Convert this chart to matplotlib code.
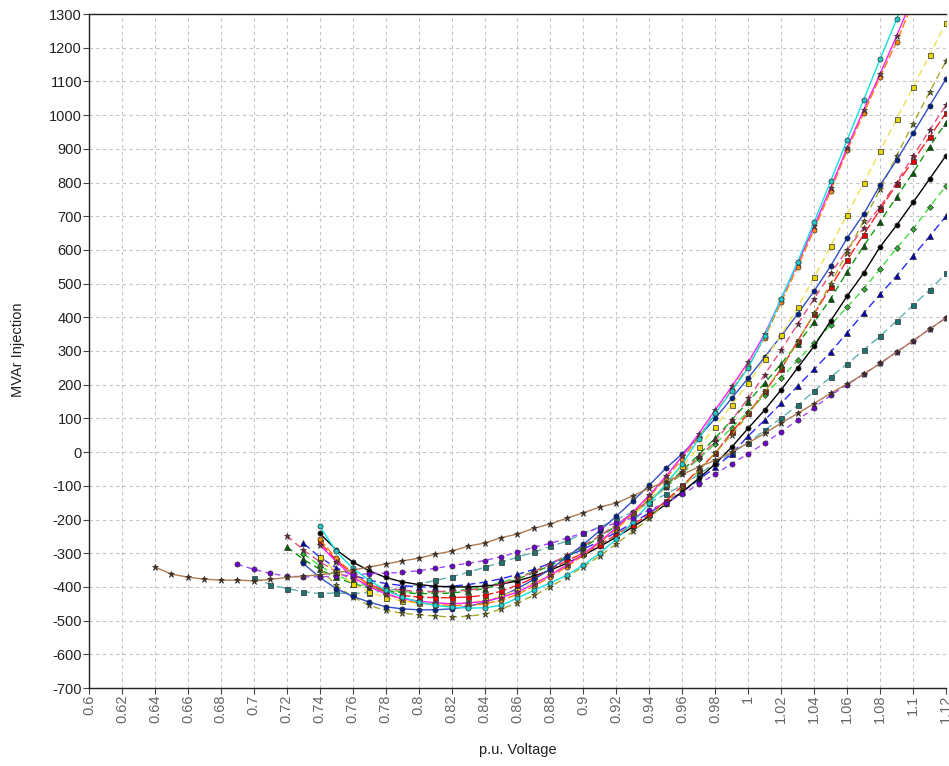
import matplotlib
matplotlib.use("Agg")
import matplotlib.pyplot as plt
import numpy as np

plt.rcParams['font.family'] = ['Liberation Sans', 'DejaVu Sans']

# QV curves: first voltage of each curve, then MVAr values every 0.01 p.u.
start_v = {
    'brown': 0.64, 'purple': 0.69, 'teal': 0.70, 'crimson': 0.72, 'darkgreen': 0.72,
    'blue': 0.73, 'lightgreen': 0.73, 'navy': 0.73, 'cyan': 0.74, 'magenta': 0.74,
    'orange': 0.74, 'red': 0.74, 'yellow': 0.74, 'olive': 0.74, 'black': 0.74,
}

cyan = [-220, -294, -345, -380, -410, -430, -445, -455, -460, -463, -462, -455, -433, -410,
        -388, -365, -335, -300, -258, -208, -152, -95, -35, 40, 115, 182, 250, 345, 455, 565,
        683, 804, 926, 1045, 1166, 1284, 1405]
magenta = [-275, -325, -370, -400, -420, -435, -442, -447, -450, -448, -443, -432, -415, -392,
           -365, -335, -302, -265, -224, -178, -128, -72, -12, 55, 125, 195, 267, 350, 455, 560,
           670, 785, 903, 1015, 1122, 1235, 1350]
orange = [-259, -315, -360, -395, -420, -438, -448, -452, -455, -455, -450, -440, -422, -398,
          -370, -340, -306, -268, -228, -182, -132, -78, -20, 45, 115, 185, 255, 340, 445, 550,
          660, 775, 895, 1005, 1113, 1217, 1335]
red = [-268, -320, -362, -392, -412, -425, -430, -432, -432, -430, -425, -413, -395, -373, -348,
       -322, -300, -275, -245, -215, -185, -145, -100, -52, -3, 60, 115, 180, 246, 330, 410, 490,
       570, 645, 720, 795, 864, 935, 1006]
crimson = [-248, -290, -325, -355, -378, -395, -405, -410, -413, -414, -413, -410, -403, -392,
           -375, -355, -332, -306, -278, -248, -215, -180, -143, -103, -60, -15, 32, 95, 160, 230,
           303, 380, 455, 530, 600, 665, 728, 800, 878, 955, 1030]
darkgreen = [-281, -318, -348, -372, -390, -403, -412, -417, -420, -420, -418, -413, -405, -393,
             -377, -358, -336, -311, -283, -252, -218, -181, -142, -100, -55, -8, 42, 95, 150,
             205, 262, 322, 385, 455, 535, 611, 683, 757, 829, 906, 978]
blue = [-270, -312, -343, -365, -380, -390, -396, -400, -400, -398, -393, -386, -376, -363, -348,
        -330, -310, -288, -264, -238, -210, -180, -150, -118, -82, -45, -5, 48, 95, 145, 196, 246,
        297, 354, 412, 468, 523, 582, 640, 700]
lightgreen = [-301, -337, -365, -385, -399, -409, -414, -416, -415, -412, -407, -399, -387, -372,
              -354, -332, -307, -280, -250, -218, -183, -145, -105, -63, -20, 25, 72, 120, 170,
              220, 272, 324, 377, 430, 484, 543, 605, 662, 727, 790]
navy = [-330, -372, -405, -428, -445, -459, -465, -468, -468, -465, -458, -446, -428, -405, -378,
        -347, -312, -274, -233, -190, -145, -98, -48, -5, 45, 100, 160, 220, 282, 345, 410, 478,
        552, 635, 706, 792, 866, 946, 1027, 1107]
yellow = [-311, -355, -390, -415, -432, -442, -448, -450, -450, -447, -440, -428, -410, -388,
          -362, -333, -300, -265, -228, -188, -145, -95, -42, 15, 75, 140, 205, 275, 347, 430,
          519, 611, 705, 798, 893, 988, 1083, 1178, 1273]
olive = [-345, -395, -430, -455, -470, -478, -483, -486, -490, -487, -481, -466, -447, -425,
         -400, -370, -340, -308, -272, -235, -196, -150, -105, -55, -3, 52, 112, 178, 250, 328,
         412, 500, 592, 686, 780, 879, 975, 1068, 1160]
black = [-241, -290, -326, -352, -372, -385, -393, -398, -400, -400, -398, -392, -382, -368,
         -350, -330, -306, -280, -252, -222, -190, -155, -118, -78, -35, 15, 71, 125, 185, 250,
         315, 389, 463, 531, 609, 673, 741, 810, 880]
teal = [-373, -393, -405, -414, -420, -418, -420, -417, -412, -403, -392, -381, -370, -357, -342,
        -327, -312, -297, -280, -264, -241, -222, -200, -178, -150, -125, -98, -66, -33, -3, 28,
        65, 101, 139, 181, 223, 261, 303, 344, 389, 436, 481, 530]
purple = [-333, -348, -360, -368, -370, -370, -368, -364, -361, -359, -357, -352, -345, -337,
          -330, -322, -310, -297, -282, -271, -255, -240, -225, -210, -195, -172, -150, -125, -95,
          -65, -34, -5, 27, 60, 95, 132, 168, 200, 231, 263, 297, 330, 365, 398]
brown = [-341, -362, -371, -377, -380, -380, -382, -378, -372, -368, -364, -358, -350, -341, -332,
         -323, -315, -303, -294, -279, -270, -254, -243, -226, -213, -196, -180, -163, -151, -130,
         -107, -88, -66, -44, -24, 0, 27, 56, 86, 115, 144, 175, 202, 231, 263, 297, 330, 365, 398]

x_ticks = np.round(np.arange(0.60, 1.121, 0.02), 2)
y_ticks = np.arange(-700, 1301, 100)

# name: (values, line colour, line style, marker, marker face)
styles = {
    'teal': (teal, '#5fb0b0', (0, (6, 3)), 's', '#1f7272'),
    'lightgreen': (lightgreen, '#40e040', (0, (5, 3)), 'D', '#30b030'),
    'blue': (blue, '#2a2aff', (0, (6, 3)), '^', '#0000b0'),
    'darkgreen': (darkgreen, '#109a10', (0, (5, 3)), '^', '#005a00'),
    'black': (black, '#000000', '-', 'o', '#000000'),
    'red': (red, '#ff2020', (0, (8, 2)), 's', '#e00000'),
    'crimson': (crimson, '#e8507f', (0, (5, 3)), '*', '#9a1040'),
    'olive': (olive, '#a8a828', (0, (5, 3)), '*', '#7a7a00'),
    'navy': (navy, '#3050c8', '-', 'o', '#00208a'),
    'yellow': (yellow, '#efe050', (0, (5, 3)), 's', '#e6d400'),
    'orange': (orange, '#ff8000', (0, (6, 2)), 'o', '#ff8c00'),
    'magenta': (magenta, '#ff20ff', '-', '*', '#a02060'),
    'cyan': (cyan, '#10e0e0', '-', 'o', '#20c8c8'),
    'purple': (purple, '#a448ff', (0, (4, 3)), 'o', '#7000d0'),
    'brown': (brown, '#b07a50', '-', '*', '#4a2a10'),
}

fig = plt.figure(figsize=(9.49, 7.66), dpi=100)
ax = fig.add_axes([89 / 949, 78 / 766, 857 / 949, 674 / 766])

for name, (vals, lc, ls, mk, mf) in styles.items():
    v = np.round(start_v[name] + 0.01 * np.arange(len(vals)), 2)
    ms = {'*': 4.8, 'D': 3.0, 's': 3.6, '^': 3.8}.get(mk, 3.7)
    ax.plot(v, vals, color=lc, linestyle=ls, linewidth=1.0, marker=mk, markersize=ms,
            markerfacecolor=mf, markeredgecolor='#303030', markeredgewidth=0.5)

ax.set_xlim(0.60, 1.12)
ax.set_ylim(-700, 1300)
ax.set_xticks(x_ticks)
ax.set_xticklabels([f"{t:g}" for t in x_ticks], rotation=90, va='top', ha='center',
                   fontsize=10.5, color='#666666')
ax.set_yticks(y_ticks)
ax.set_yticklabels([str(t) for t in y_ticks], fontsize=10.5, color='#222222')
ax.tick_params(axis='both', direction='out', length=4, width=0.8, color='#444444', pad=1)
ax.grid(True, linestyle=(0, (3, 3)), color='#c4c4c4', linewidth=0.8)
ax.set_axisbelow(True)
ax.spines['right'].set_visible(False)
for s in ['left', 'bottom', 'top']:
    ax.spines[s].set_color('#222222')
    ax.spines[s].set_linewidth(1.0)

fig.text(518 / 949, 1 - 750 / 766, 'p.u. Voltage', ha='center', va='center', fontsize=10.5,
         color='#222222')
fig.text(18 / 949, 1 - 350 / 766, 'MVAr Injection', ha='center', va='center', rotation=90,
         fontsize=10.5, color='#222222')

fig.savefig('out.png', dpi=100)
